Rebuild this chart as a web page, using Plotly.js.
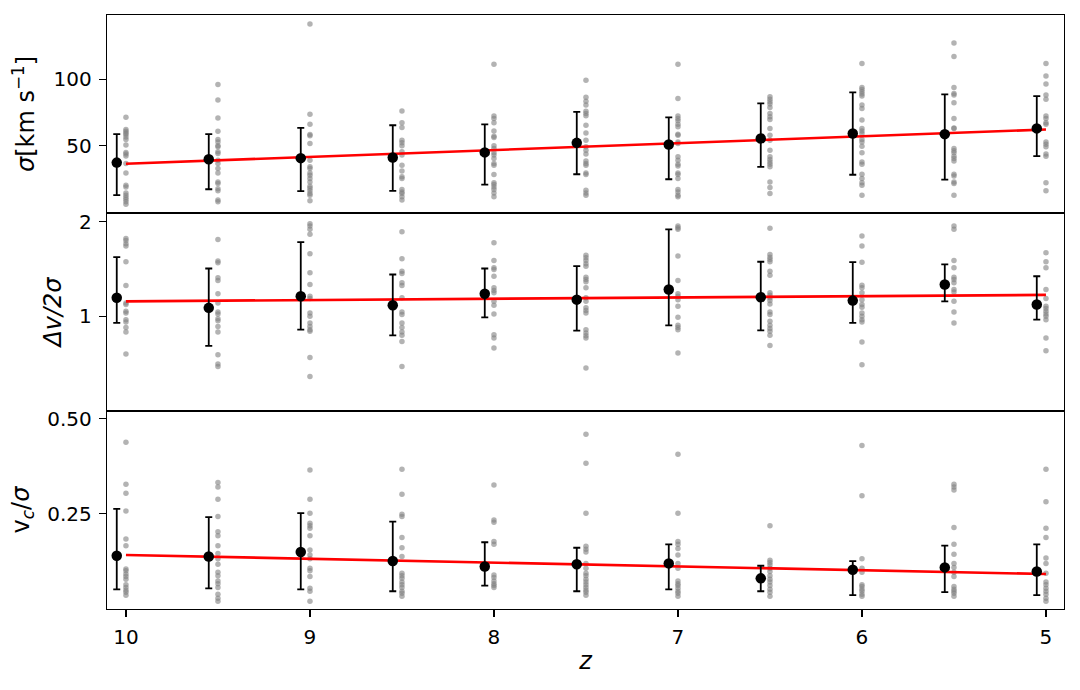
<!DOCTYPE html>
<html>
<head>
<meta charset="utf-8">
<script src="https://cdn.plot.ly/plotly-3.0.1.min.js"></script>
<style>
  body { margin: 0; background: #fff; }
  #chart { width: 1080px; height: 690px; }
</style>
</head>
<body>
<div id="chart"></div>
<script>
// redshift bins (gray samples sit on the bin, medians are nudged left)
const zBins = [10, 9.5, 9, 8.5, 8, 7.5, 7, 6.5, 6, 5.5, 5];
const fitZ = [10, 5];

// top panel: sigma [km/s]
const sigmaDots = [
  [67.3, 59.3, 58.3, 57.2, 56.3, 54.9, 53.4, 50.4, 46.7, 45.9, 45.0, 41.6, 37.7, 33.2, 32.6, 30.6, 29.9, 29.2, 28.6, 27.9, 27.2],
  [94.9, 80.6, 66.8, 58.3, 53.4, 52.1, 50.0, 49.5, 47.0, 46.2, 43.0, 41.6, 39.5, 37.7, 34.3, 33.8, 32.0, 31.3, 28.4, 27.9],
  [178, 69.6, 62.7, 56.3, 55.5, 51.3, 43.0, 40.2, 39.5, 37.7, 36.8, 35.6, 34.3, 32.8, 32.1, 31.3, 30.4, 29.9, 28.2],
  [72.0, 63.6, 60.6, 53.0, 51.6, 50.0, 47.0, 45.4, 40.9, 38.5, 36.2, 35.6, 31.7, 30.9, 30.4, 29.4, 28.4],
  [117, 68.2, 66.5, 63.6, 58.4, 55.3, 54.6, 50.0, 48.7, 46.5, 45.4, 43.8, 41.6, 40.9, 37.1, 34.0, 33.4, 32.6, 31.7, 30.6, 29.4],
  [99.0, 82.9, 79.7, 76.5, 71.8, 70.1, 68.4, 62.0, 57.2, 53.0, 49.5, 47.8, 45.9, 42.7, 41.6, 40.9, 37.7, 37.1, 31.5, 30.6, 29.9],
  [117, 82.0, 68.2, 66.5, 64.9, 62.7, 61.0, 56.5, 55.9, 52.1, 51.3, 44.6, 43.0, 41.3, 40.5, 37.7, 37.1, 35.6, 31.7, 30.9, 29.9, 29.4],
  [83.4, 81.2, 79.2, 77.3, 74.6, 70.1, 67.7, 65.9, 60.0, 55.9, 53.0, 47.8, 44.6, 43.4, 42.3, 41.3, 40.2, 34.3, 32.4, 30.4],
  [118, 92.0, 90.1, 87.9, 85.8, 84.0, 76.5, 73.9, 65.4, 60.0, 58.4, 56.9, 53.4, 52.1, 49.8, 46.5, 42.3, 41.3, 37.2, 35.6, 34.0, 33.2, 29.9],
  [146, 127, 92.0, 86.4, 84.9, 78.3, 66.5, 60.3, 60.0, 48.7, 47.5, 46.5, 44.9, 43.8, 42.7, 37.2, 36.5, 34.3, 33.8, 29.9],
  [118, 103.5, 95.2, 84.9, 81.2, 68.2, 66.5, 63.6, 62.7, 52.1, 50.9, 49.5, 45.9, 44.9, 34.0, 31.3]
];
const sigmaMed = [42.0, 43.5, 44.0, 44.3, 46.7, 51.6, 50.7, 54.0, 56.9, 56.5, 60.0];
const sigmaLo = [29.9, 31.8, 31.2, 31.3, 33.4, 37.2, 35.3, 40.2, 37.0, 35.2, 44.9];
const sigmaHi = [56.5, 56.5, 60.3, 62.0, 62.5, 71.3, 67.3, 77.9, 87.3, 85.5, 84.0];
const sigmaFit = [41.5, 59.3];

// middle panel: dv / 2 sigma
const dvDots = [
  [1.769, 1.743, 1.702, 1.672, 1.491, 1.253, 1.103, 1.090, 1.037, 1.025, 0.976, 0.960, 0.922, 0.892, 0.759],
  [1.756, 1.498, 1.480, 1.326, 1.300, 1.179, 1.103, 1.033, 1.018, 0.983, 0.969, 0.929, 0.892, 0.755, 0.705, 0.693],
  [1.971, 1.937, 1.890, 1.822, 1.581, 1.375, 1.262, 1.158, 1.139, 1.025, 1.000, 0.953, 0.929, 0.907, 0.896, 0.740, 0.644],
  [1.858, 1.524, 1.391, 1.368, 1.278, 1.253, 1.145, 1.033, 1.013, 0.953, 0.922, 0.892, 0.870, 0.832, 0.693],
  [1.714, 1.505, 1.427, 1.409, 1.341, 1.232, 1.208, 1.188, 1.116, 1.084, 1.018, 0.874, 0.853, 0.793],
  [1.565, 1.536, 1.505, 1.469, 1.444, 1.331, 1.309, 1.287, 1.232, 1.145, 1.116, 1.064, 1.043, 1.025, 0.907, 0.885, 0.868, 0.853, 0.685],
  [1.937, 1.914, 1.890, 1.554, 1.300, 1.179, 1.158, 1.130, 1.076, 0.993, 0.936, 0.922, 0.907, 0.764],
  [1.904, 1.573, 1.542, 1.516, 1.491, 1.391, 1.351, 1.188, 1.167, 1.145, 1.122, 1.095, 1.033, 1.013, 0.964, 0.936, 0.914, 0.896, 0.870, 0.808],
  [1.799, 1.672, 1.487, 1.256, 1.232, 1.188, 1.130, 1.090, 1.068, 1.025, 1.000, 0.976, 0.960, 0.829, 0.701],
  [1.937, 1.890, 1.505, 1.427, 1.331, 1.309, 1.278, 1.217, 1.196, 1.116, 1.033, 0.953],
  [1.593, 1.491, 1.427, 1.217, 1.139, 1.076, 1.058, 1.037, 1.018, 1.000, 0.976, 0.853, 0.777]
];
const dvMed = [1.145, 1.064, 1.158, 1.084, 1.179, 1.130, 1.217, 1.150, 1.122, 1.262, 1.090];
const dvLo = [0.953, 0.805, 0.907, 0.870, 0.993, 0.900, 0.936, 0.902, 0.953, 1.116, 0.976];
const dvHi = [1.542, 1.419, 1.722, 1.358, 1.419, 1.444, 1.890, 1.491, 1.487, 1.462, 1.341];
const dvFit = [1.116, 1.170];

// bottom panel: v_c / sigma
const vcDots = [
  [0.421, 0.310, 0.290, 0.255, 0.208, 0.198, 0.167, 0.165, 0.161, 0.158, 0.155, 0.149, 0.146, 0.143, 0.141, 0.138],
  [0.314, 0.304, 0.278, 0.245, 0.219, 0.213, 0.198, 0.187, 0.180, 0.173, 0.163, 0.159, 0.153, 0.150, 0.146, 0.139, 0.135, 0.132],
  [0.344, 0.278, 0.251, 0.233, 0.229, 0.225, 0.213, 0.192, 0.185, 0.180, 0.168, 0.165, 0.158, 0.145, 0.142, 0.132],
  [0.346, 0.288, 0.249, 0.245, 0.210, 0.195, 0.183, 0.162, 0.159, 0.156, 0.152, 0.149, 0.146, 0.142, 0.140, 0.137],
  [0.308, 0.239, 0.235, 0.204, 0.200, 0.160, 0.157, 0.153, 0.150, 0.148, 0.146],
  [0.446, 0.361, 0.251, 0.197, 0.193, 0.189, 0.174, 0.168, 0.162, 0.159, 0.155, 0.152, 0.149, 0.146, 0.143, 0.141, 0.138],
  [0.386, 0.251, 0.204, 0.200, 0.194, 0.185, 0.174, 0.168, 0.153, 0.150, 0.148, 0.145, 0.142, 0.140, 0.137],
  [0.229, 0.178, 0.175, 0.172, 0.168, 0.164, 0.159, 0.155, 0.152, 0.148, 0.144, 0.141, 0.137],
  [0.411, 0.285, 0.180, 0.168, 0.163, 0.149, 0.147, 0.144, 0.142, 0.139, 0.137],
  [0.310, 0.304, 0.297, 0.226, 0.200, 0.186, 0.174, 0.169, 0.163, 0.158, 0.147, 0.144, 0.142, 0.140, 0.137],
  [0.346, 0.273, 0.225, 0.210, 0.181, 0.174, 0.162, 0.152, 0.149, 0.145, 0.142, 0.139, 0.135, 0.132]
];
const vcMed = [0.184, 0.183, 0.189, 0.177, 0.170, 0.173, 0.174, 0.156, 0.166, 0.169, 0.164];
const vcLo = [0.144, 0.145, 0.144, 0.142, 0.148, 0.142, 0.144, 0.142, 0.138, 0.141, 0.138];
const vcHi = [0.259, 0.244, 0.251, 0.236, 0.203, 0.195, 0.200, 0.171, 0.177, 0.198, 0.200];
const vcFit = [0.185, 0.161];

const medOffset = 0.05;
const font = 'DejaVu Sans, sans-serif';

function panelTraces(dots, med, lo, hi, fit, yref) {
  const xs = [], ys = [];
  dots.forEach((arr, i) => arr.forEach(v => { xs.push(zBins[i]); ys.push(v); }));
  const xref = 'x' + (yref === 'y' ? '' : yref.slice(1));

  const scatter = {
    x: xs, y: ys, xaxis: xref, yaxis: yref,
    mode: 'markers', type: 'scatter', hoverinfo: 'skip',
    marker: { size: 5.5, color: 'rgba(128,128,128,0.6)' }
  };
  const line = {
    x: fitZ, y: fit, xaxis: xref, yaxis: yref,
    mode: 'lines', type: 'scatter',
    line: { color: '#ff0000', width: 2.6 }
  };
  const meds = {
    x: zBins.map(z => z + medOffset), y: med, xaxis: xref, yaxis: yref,
    mode: 'markers', type: 'scatter',
    marker: { size: 10.5, color: '#000' },
    error_y: {
      type: 'data', symmetric: false,
      array: hi.map((h, i) => h - med[i]),
      arrayminus: lo.map((l, i) => med[i] - l),
      color: '#000', thickness: 1.8, width: 3.5
    }
  };
  return [scatter, line, meds];
}

const data = [
  ...panelTraces(vcDots, vcMed, vcLo, vcHi, vcFit, 'y'),
  ...panelTraces(dvDots, dvMed, dvLo, dvHi, dvFit, 'y2'),
  ...panelTraces(sigmaDots, sigmaMed, sigmaLo, sigmaHi, sigmaFit, 'y3')
];

const frame = { showline: true, linecolor: '#000', linewidth: 1.2, mirror: true, showgrid: false, zeroline: false };
const tickStyle = { ticks: 'outside', ticklen: 7, tickwidth: 1.2, tickcolor: '#000', ticklabelstandoff: 3 };
const xRange = [10.103, 4.902];

const layout = {
  width: 1080, height: 690,
  margin: { l: 107, r: 16, t: 15, b: 81 },
  paper_bgcolor: '#fff', plot_bgcolor: '#fff',
  showlegend: false,
  font: { family: font, size: 20, color: '#000' },
  xaxis: Object.assign({}, frame, tickStyle, {
    anchor: 'y', range: xRange, tickvals: [10, 9, 8, 7, 6, 5],
    title: { text: '<i>z</i>', standoff: 4 }
  }),
  xaxis2: Object.assign({}, frame, { anchor: 'y2', matches: 'x', range: xRange, showticklabels: false, ticks: '' }),
  xaxis3: Object.assign({}, frame, { anchor: 'y3', matches: 'x', range: xRange, showticklabels: false, ticks: '' }),
  yaxis: Object.assign({}, frame, tickStyle, {
    domain: [0, 1 / 3], type: 'log', range: [-0.904, -0.2766],
    tickvals: [0.25, 0.5], ticktext: ['0.25', '0.50'],
    title: { text: 'v<sub><i>c</i></sub>/<i>σ</i>', standoff: 10 }
  }),
  yaxis2: Object.assign({}, frame, tickStyle, {
    domain: [1 / 3, 2 / 3], type: 'log', range: [-0.301, 0.3285],
    tickvals: [1, 2], ticktext: ['1', '2'],
    title: { text: '<i>Δv/2σ</i>', standoff: 10 }
  }),
  yaxis3: Object.assign({}, frame, tickStyle, {
    domain: [2 / 3, 1], type: 'log', range: [1.395, 2.2915],
    tickvals: [50, 100], ticktext: ['50', '100'],
    title: { text: '<i>σ</i>[km s<sup>−1</sup>]', standoff: 12 }
  })
};

Plotly.newPlot('chart', data, layout, { displayModeBar: false, staticPlot: true });
</script>
</body>
</html>
